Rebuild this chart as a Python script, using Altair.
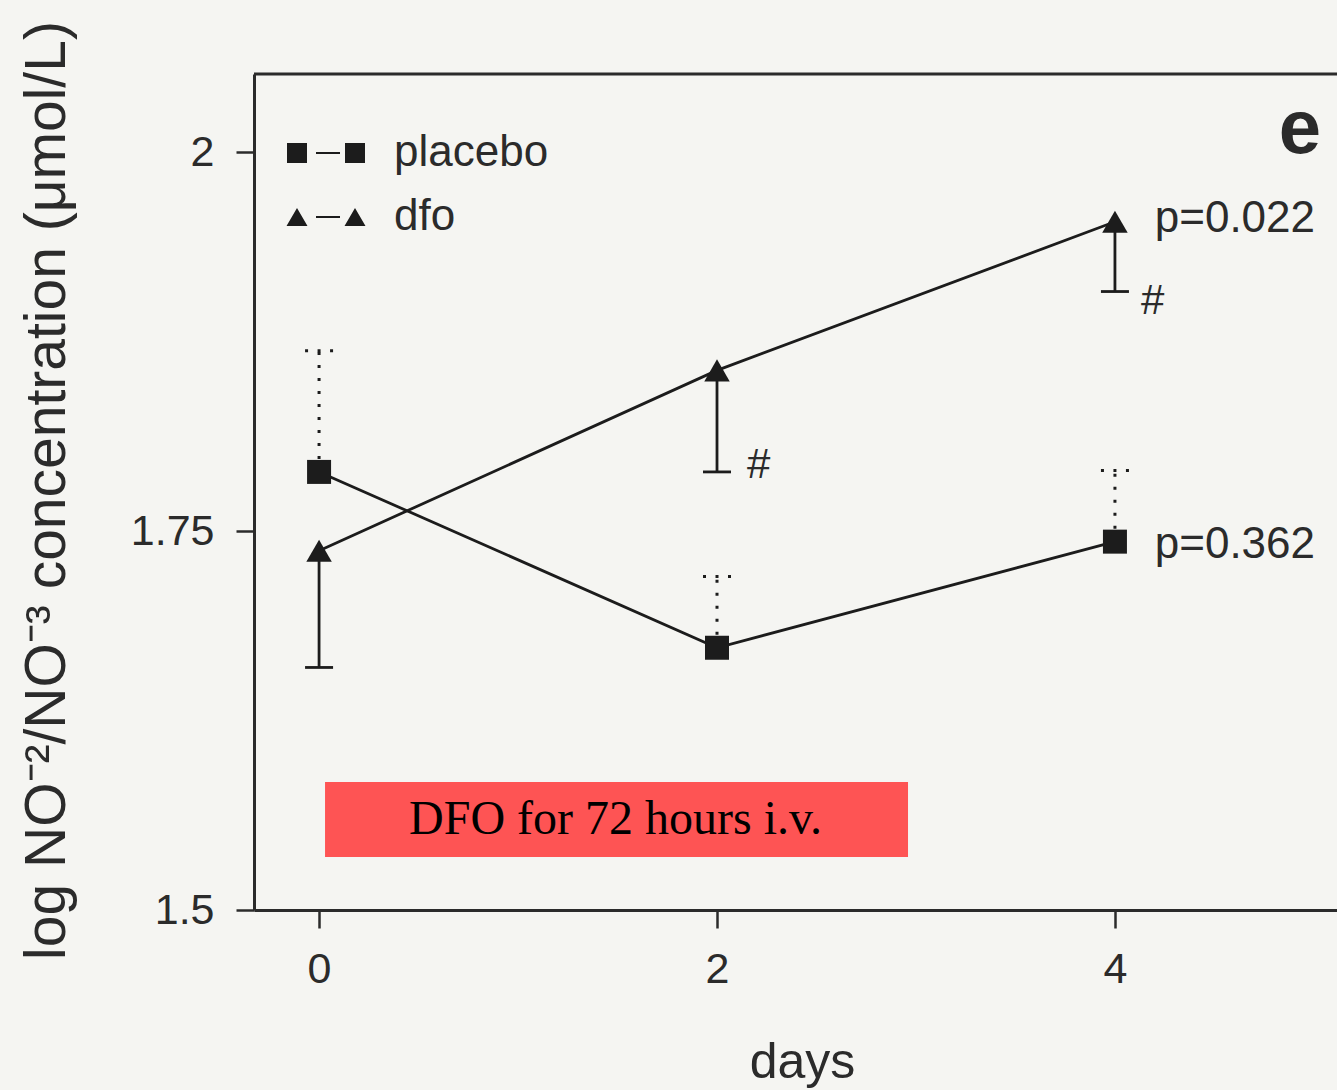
import altair as alt
import pandas as pd

# ---------------- data ----------------
days = [0, 2, 4]
groups = ["placebo", "dfo"]
placebo_mean = [1.789, 1.673, 1.743]
placebo_upper = [1.869, 1.720, 1.790]
dfo_mean = [1.737, 1.856, 1.954]
dfo_lower = [1.660, 1.789, 1.908]

p_text = ["p=0.022", "p=0.362"]
p_day = [4.2, 4.2]
p_value = [1.956, 1.741]

hash_text = ["#", "#"]
hash_day = [2.21, 4.19]
hash_value = [1.7935, 1.902]

panel_text = ["e"]
panel_day = [4.93]
panel_value = [2.0145]

box_text = ["DFO for 72 hours i.v."]
box_day = [0.03]
box_day2 = [2.96]
box_value = [1.535]
box_value2 = [1.5845]
box_text_day = [1.49]
box_text_value = [1.5594]

x_domain = [-0.327, 5.116]
y_domain = [1.5, 2.0515]
x_ticks = [0, 2, 4]
y_ticks = [1.5, 1.75, 2.0]

y_title = "log NO\u207b\u00b2/NO\u207b\u00b3  concentration (\u03bcmol/L)"
x_title = "days"

# ---------------- tables ----------------
df = pd.DataFrame({
    "day": days * 2,
    "group": ["placebo"] * 3 + ["dfo"] * 3,
    "value": placebo_mean + dfo_mean,
    "err": placebo_upper + dfo_lower,
})
p_df = pd.DataFrame({"day": p_day, "value": p_value, "text": p_text})
hash_df = pd.DataFrame({"day": hash_day, "value": hash_value, "text": hash_text})
panel_df = pd.DataFrame({"day": panel_day, "value": panel_value, "text": panel_text})
box_df = pd.DataFrame({"day": box_day, "day2": box_day2, "value": box_value, "value2": box_value2})
box_txt_df = pd.DataFrame({"day": box_text_day, "value": box_text_value, "text": box_text})

# ---------------- styling ----------------
INK = "#1c1c1c"
AX = "#2b2b2b"
SANS = "Liberation Sans"
SERIF = "Liberation Serif"
W, H = 1083, 836

xscale = alt.Scale(domain=x_domain, nice=False, zero=False)
yscale = alt.Scale(domain=y_domain, nice=False, zero=False)

xaxis = alt.Axis(
    values=x_ticks, format="d", title=x_title, grid=False,
    domainColor=AX, domainWidth=3, tickColor=AX, tickWidth=2.5, tickSize=18,
    labelFont=SANS, labelFontSize=43, labelColor=AX, labelPadding=20,
    titleFont=SANS, titleFontSize=50, titleFontWeight="normal", titleColor=AX,
    titleX=548, titleY=152, titleBaseline="middle",
)
yaxis = alt.Axis(
    values=y_ticks, format=".3~f", title=y_title, grid=False,
    domainColor=AX, domainWidth=3, tickColor=AX, tickWidth=2.5, tickSize=18,
    labelFont=SANS, labelFontSize=43, labelColor=AX, labelPadding=22,
    titleFont=SANS, titleFontSize=57, titleFontWeight="normal", titleColor=AX,
    titleAngle=270, titleX=-207, titleY=416, titleBaseline="middle", titleAlign="center",
)

X = alt.X("day:Q", scale=xscale, axis=xaxis)
Y = alt.Y("value:Q", scale=yscale, axis=yaxis)

base = alt.Chart(df)

lines = base.mark_line(color=INK, strokeWidth=2.8).encode(x=X, y=Y, detail="group:N")

plc = base.transform_filter(alt.datum.group == "placebo")
dfo = base.transform_filter(alt.datum.group == "dfo")

plc_bar = plc.mark_rule(color=INK, strokeWidth=3, strokeDash=[3, 10]).encode(
    x=X, y=Y, y2=alt.Y2("err"))
plc_cap = plc.mark_rule(color=INK, strokeWidth=3, strokeDash=[3, 9.5],
                        xOffset=-14, x2Offset=14).encode(
    x=X, x2=alt.X2("day"), y=alt.Y("err:Q", scale=yscale, axis=yaxis))
dfo_bar = dfo.mark_rule(color=INK, strokeWidth=2.8).encode(
    x=X, y=Y, y2=alt.Y2("err"))
dfo_cap = dfo.mark_rule(color=INK, strokeWidth=2.8, xOffset=-14, x2Offset=14).encode(
    x=X, x2=alt.X2("day"), y=alt.Y("err:Q", scale=yscale, axis=yaxis))

plc_pts = plc.mark_point(filled=True, shape="square", size=576, color=INK, opacity=1,
                         strokeWidth=0).encode(x=X, y=Y)
dfo_pts = dfo.mark_point(filled=True, shape="triangle-up", size=650, color=INK, opacity=1,
                         strokeWidth=0).encode(x=X, y=Y)

# legend: custom symbols "square-line-square" and "triangle-line-triangle"
SQ_PATH = "M-1,-1H1V1H-1Z M1.9,-0.1H4.3V0.1H1.9Z M4.8,-1H6.8V1H4.8Z"
TRI_PATH = "M0,-0.9L1.05,0.9H-1.05Z M1.9,-0.1H4.3V0.1H1.9Z M5.8,-0.9L6.85,0.9H4.75Z"
legend_layer = base.mark_point(filled=True, color=INK, opacity=1, size=400,
                               strokeWidth=0, clip=True).encode(
    shape=alt.Shape("group:N",
                    scale=alt.Scale(domain=groups, range=[SQ_PATH, TRI_PATH]),
                    legend=alt.Legend(
                        title=None, orient="none", legendX=21, legendY=57,
                        padding=0, symbolSize=400, symbolStrokeWidth=0,
                        symbolFillColor=INK, symbolOpacity=1,
                        labelFont=SANS, labelFontSize=44, labelColor=AX,
                        labelOffset=75, rowPadding=20)),
    x=alt.value(-2000), y=alt.value(-2000))

top_frame = alt.Chart(pd.DataFrame({"v": [y_domain[1]]})).mark_rule(
    color=AX, strokeWidth=3).encode(y=alt.Y("v:Q", scale=yscale, axis=yaxis))

p_lbl = alt.Chart(p_df).mark_text(align="left", baseline="middle", font=SANS,
                                  fontSize=44, color=AX).encode(x=X, y=Y, text="text:N")
hash_lbl = alt.Chart(hash_df).mark_text(align="center", baseline="middle", font=SANS,
                                        fontSize=42, color=AX).encode(x=X, y=Y, text="text:N")
panel_lbl = alt.Chart(panel_df).mark_text(align="center", baseline="middle", font=SANS,
                                          fontSize=76, fontWeight="bold",
                                          color=AX).encode(x=X, y=Y, text="text:N")

box = alt.Chart(box_df).mark_rect(color="#fe5454", opacity=1).encode(
    x=X, x2=alt.X2("day2"), y=Y, y2=alt.Y2("value2"))
box_lbl = alt.Chart(box_txt_df).mark_text(align="center", baseline="middle", font=SERIF,
                                          fontSize=48, color="#000000").encode(
    x=X, y=Y, text="text:N")

chart = alt.layer(
    top_frame, lines, plc_bar, plc_cap, dfo_bar, dfo_cap, plc_pts, dfo_pts,
    legend_layer, p_lbl, hash_lbl, panel_lbl, box, box_lbl,
).properties(
    width=W, height=H,
    autosize=alt.AutoSizeParams(type="none"),
    padding={"left": 254, "top": 74, "right": 0, "bottom": 180},
).configure(
    background="#f5f5f2", font=SANS,
).configure_view(stroke=None)

chart.save("out.html", embed_options={"renderer": "svg", "actions": False})
